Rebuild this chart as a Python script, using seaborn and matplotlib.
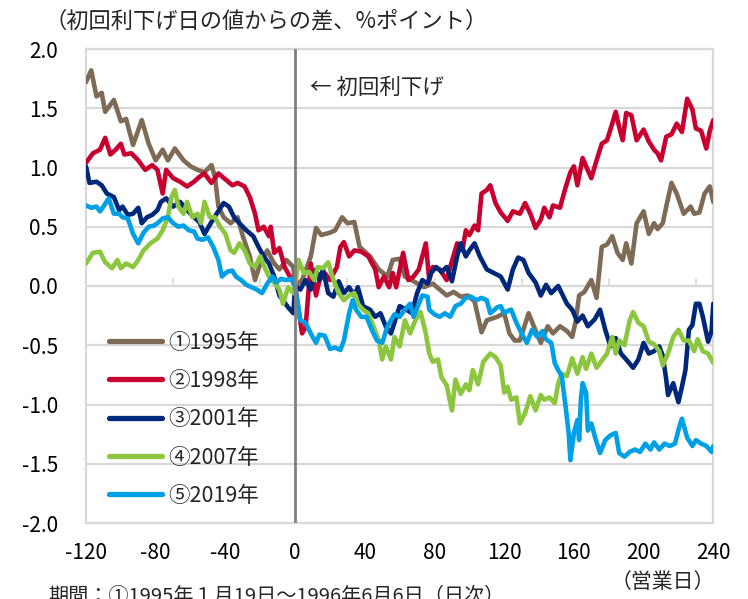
import numpy as np
import pandas as pd
import matplotlib
matplotlib.use("Agg")
import matplotlib.pyplot as plt
import seaborn as sns

# ---- data (business days from first rate cut, difference in %pt) ----
days_1995 = [-120, -117, -114, -111, -109, -104, -100, -97, -93, -88, -84, -80, -76, -73, -69, -64, -60, -56, -52, -48,
             -46, -44, -41, -37, -33, -30, -26, -23, -20, -16, -12, -9, -5, -1, 0, 4, 9, 12, 15, 20, 23, 27, 30, 34, 37,
             43, 48, 53, 56, 60, 63, 68, 74, 79, 83, 87, 91, 95, 99, 103, 107, 110, 116, 120, 123, 126, 129, 134, 137,
             141, 145, 148, 152, 156, 159, 161, 163, 166, 170, 173, 176, 179, 182, 185, 188, 190, 193, 196, 200, 203,
             206, 208, 211, 213, 216, 219, 223, 227, 229, 232, 235, 238, 240]
vals_1995 = [1.72, 1.82, 1.60, 1.63, 1.47, 1.57, 1.39, 1.41, 1.19, 1.40, 1.20, 1.06, 1.15, 1.06, 1.16, 1.06, 1.01, 0.98,
             0.96, 1.02, 0.92, 0.67, 0.58, 0.53, 0.58, 0.42, 0.25, 0.05, 0.19, 0.30, 0.19, 0.14, 0.22, 0.16, 0.00, 0.05,
             0.25, 0.49, 0.43, 0.45, 0.47, 0.58, 0.53, 0.54, 0.33, 0.25, 0.14, 0.08, 0.22, 0.23, 0.08, 0.04, -0.01, 0.02,
             -0.03, -0.08, -0.05, -0.09, -0.08, -0.13, -0.39, -0.29, -0.26, -0.23, -0.40, -0.46, -0.46, -0.23, -0.34,
             -0.48, -0.34, -0.40, -0.34, -0.38, -0.43, -0.30, -0.08, -0.05, 0.05, -0.10, 0.33, 0.35, 0.42, 0.28, 0.22,
             0.36, 0.19, 0.53, 0.63, 0.44, 0.53, 0.48, 0.53, 0.67, 0.87, 0.78, 0.61, 0.67, 0.61, 0.62, 0.78, 0.84, 0.71]

days_1998 = [-120, -116, -112, -109, -106, -103, -100, -98, -94, -90, -86, -82, -79, -76, -74, -70, -66, -62, -58, -55,
             -52, -48, -44, -40, -36, -33, -29, -26, -23, -21, -18, -15, -14, -12, -9, -6, -3, 0, 4, 6, 9, 12, 14, 17,
             20, 24, 26, 28, 31, 34, 38, 42, 46, 48, 51, 54, 56, 58, 62, 65, 68, 71, 75, 77, 79, 83, 87, 89, 93, 96,
             98, 100, 103, 105, 107, 110, 112, 115, 118, 122, 125, 129, 132, 135, 138, 141, 143, 146, 148, 152, 155,
             158, 160, 162, 165, 167, 170, 173, 176, 179, 182, 184, 186, 188, 190, 193, 196, 200, 203, 206, 208, 210,
             213, 216, 219, 222, 225, 228, 230, 233, 236, 238, 240]
vals_1998 = [1.04, 1.12, 1.15, 1.25, 1.11, 1.15, 1.20, 1.11, 1.12, 1.06, 0.98, 1.02, 0.98, 0.78, 0.98, 0.91, 0.88, 0.84,
             0.88, 0.92, 0.95, 0.87, 0.95, 0.90, 0.85, 0.87, 0.84, 0.75, 0.61, 0.47, 0.50, 0.42, 0.50, 0.28, 0.32, 0.16,
             0.08, 0.00, -0.40, -0.35, 0.19, -0.08, 0.05, 0.11, 0.05, 0.16, 0.33, 0.37, 0.25, 0.30, 0.29, 0.25, 0.14,
             -0.01, 0.08, -0.01, 0.11, -0.01, 0.28, 0.05, 0.08, 0.14, 0.36, 0.05, 0.16, 0.14, 0.05, 0.16, 0.36, 0.30,
             0.47, 0.43, 0.51, 0.47, 0.78, 0.81, 0.85, 0.70, 0.62, 0.55, 0.63, 0.61, 0.70, 0.61, 0.49, 0.56, 0.66, 0.58,
             0.68, 0.66, 0.82, 0.96, 1.01, 0.85, 1.08, 1.01, 0.91, 1.06, 1.20, 1.23, 1.37, 1.47, 1.34, 1.23, 1.46, 1.44,
             1.23, 1.32, 1.22, 1.15, 1.12, 1.06, 1.26, 1.28, 1.37, 1.30, 1.58, 1.49, 1.33, 1.31, 1.16, 1.31, 1.40]

days_2001 = [-120, -118, -114, -111, -108, -104, -101, -99, -96, -93, -90, -88, -85, -82, -79, -77, -74, -70, -66, -62,
             -58, -55, -52, -48, -45, -41, -38, -35, -32, -28, -24, -21, -18, -15, -12, -9, -7, -4, -1, 0, 3, 6, 9, 12,
             14, 16, 19, 22, 25, 28, 31, 34, 36, 39, 43, 46, 49, 52, 55, 57, 60, 64, 67, 70, 73, 76, 78, 81, 84, 87,
             90, 93, 95, 98, 100, 103, 106, 110, 114, 118, 122, 125, 128, 131, 134, 138, 141, 144, 147, 151, 154, 156,
             159, 162, 165, 168, 172, 175, 178, 181, 184, 187, 190, 194, 197, 200, 203, 206, 209, 211, 213, 214, 217,
             220, 222, 224, 226, 228, 230, 232, 234, 237, 239, 240]
vals_2001 = [1.01, 0.87, 0.88, 0.85, 0.78, 0.75, 0.64, 0.67, 0.60, 0.61, 0.66, 0.53, 0.58, 0.60, 0.64, 0.71, 0.74, 0.67,
             0.71, 0.64, 0.58, 0.54, 0.44, 0.54, 0.61, 0.70, 0.67, 0.58, 0.53, 0.47, 0.42, 0.33, 0.25, 0.19, 0.08, -0.08,
             -0.12, -0.18, -0.23, 0.00, -0.03, 0.05, -0.03, 0.14, 0.05, 0.14, -0.06, -0.09, 0.04, -0.06, -0.01, -0.08,
             -0.01, -0.17, -0.20, -0.26, -0.23, -0.34, -0.40, -0.31, -0.17, -0.20, -0.23, -0.06, 0.05, 0.02, 0.11, 0.16,
             0.12, 0.16, 0.04, 0.25, 0.36, 0.25, 0.30, 0.36, 0.25, 0.14, 0.11, 0.08, -0.03, 0.14, 0.24, 0.22, 0.11, 0.03,
             -0.08, 0.01, -0.06, 0.00, -0.09, -0.15, -0.20, -0.30, -0.25, -0.34, -0.28, -0.20, -0.37, -0.51, -0.44,
             -0.57, -0.62, -0.69, -0.62, -0.48, -0.57, -0.55, -0.51, -0.59, -0.79, -0.92, -0.82, -0.98, -0.85, -0.71,
             -0.37, -0.33, -0.15, -0.15, -0.26, -0.47, -0.38, -0.15]

days_2007 = [-120, -116, -112, -109, -105, -102, -100, -97, -93, -90, -87, -83, -79, -76, -73, -71, -69, -67, -64, -62,
             -59, -56, -54, -52, -49, -46, -43, -40, -37, -35, -32, -29, -26, -23, -20, -17, -14, -12, -9, -7, -4, -1,
             0, 2, 5, 8, 11, 13, 16, 19, 22, 25, 28, 31, 34, 36, 39, 42, 45, 48, 50, 52, 55, 57, 60, 63, 66, 69, 72,
             75, 77, 79, 82, 84, 87, 90, 92, 95, 98, 100, 102, 105, 108, 112, 115, 118, 120, 122, 124, 127, 129, 132,
             135, 138, 141, 143, 146, 149, 151, 153, 156, 159, 162, 165, 167, 170, 173, 176, 179, 182, 184, 186, 189,
             192, 194, 197, 200, 203, 206, 209, 211, 214, 217, 220, 223, 226, 229, 231, 234, 237, 240]
vals_2007 = [0.19, 0.28, 0.29, 0.20, 0.15, 0.22, 0.15, 0.19, 0.16, 0.22, 0.30, 0.36, 0.40, 0.47, 0.58, 0.75, 0.81, 0.67,
             0.61, 0.71, 0.58, 0.61, 0.53, 0.71, 0.58, 0.58, 0.50, 0.44, 0.30, 0.28, 0.36, 0.30, 0.19, 0.16, 0.25, 0.14,
             0.05, 0.03, -0.03, -0.15, -0.01, -0.06, 0.00, 0.22, 0.11, 0.12, 0.05, 0.16, 0.15, 0.20, 0.05, -0.06, -0.12,
             -0.08, -0.06, -0.15, -0.20, -0.23, -0.34, -0.46, -0.62, -0.51, -0.62, -0.43, -0.51, -0.29, -0.40, -0.29,
             -0.22, -0.40, -0.57, -0.64, -0.62, -0.77, -0.84, -1.05, -0.79, -0.91, -0.83, -0.88, -0.71, -0.83, -0.64,
             -0.57, -0.60, -0.67, -0.90, -0.85, -0.96, -0.94, -1.16, -1.07, -0.93, -1.05, -0.92, -0.96, -0.94, -0.99,
             -0.82, -0.74, -0.76, -0.61, -0.74, -0.60, -0.70, -0.57, -0.69, -0.63, -0.57, -0.43, -0.57, -0.46, -0.50,
             -0.29, -0.22, -0.31, -0.34, -0.47, -0.49, -0.55, -0.67, -0.57, -0.43, -0.37, -0.46, -0.46, -0.55, -0.45,
             -0.55, -0.57, -0.65]

days_2019 = [-120, -117, -114, -112, -110, -107, -104, -101, -99, -96, -93, -90, -87, -84, -81, -79, -76, -73, -70, -67,
             -64, -61, -58, -56, -53, -50, -47, -44, -42, -39, -36, -34, -31, -28, -25, -22, -19, -16, -13, -11, -8, -5,
             -2, 0, 3, 6, 9, 12, 14, 17, 20, 23, 26, 28, 31, 33, 35, 38, 41, 44, 47, 50, 53, 55, 57, 60, 63, 66, 68,
             71, 73, 76, 77, 80, 83, 86, 89, 92, 95, 98, 101, 104, 107, 110, 112, 116, 118, 120, 122, 124, 127, 130,
             133, 136, 139, 142, 144, 147, 149, 151, 153, 155, 157, 158, 160, 162, 163, 164, 165, 167, 168, 170, 172,
             175, 178, 181, 184, 186, 189, 192, 195, 198, 201, 204, 206, 209, 212, 215, 218, 221, 222, 225, 228, 230,
             233, 236, 239, 240]
vals_2019 = [0.68, 0.66, 0.67, 0.63, 0.67, 0.74, 0.61, 0.61, 0.58, 0.57, 0.44, 0.36, 0.45, 0.50, 0.51, 0.53, 0.57, 0.58,
             0.53, 0.50, 0.51, 0.47, 0.46, 0.40, 0.39, 0.41, 0.33, 0.22, 0.08, 0.12, 0.13, 0.08, 0.05, 0.01, -0.01, -0.03,
             -0.06, 0.02, 0.08, 0.03, 0.06, 0.05, 0.06, 0.00, -0.29, -0.31, -0.40, -0.48, -0.41, -0.42, -0.53, -0.52,
             -0.54, -0.46, -0.23, -0.12, -0.20, -0.26, -0.26, -0.37, -0.46, -0.48, -0.34, -0.29, -0.24, -0.26, -0.20,
             -0.15, -0.26, -0.15, -0.08, -0.09, -0.20, -0.24, -0.26, -0.23, -0.26, -0.17, -0.15, -0.10, -0.09, -0.12,
             -0.10, -0.12, -0.23, -0.18, -0.17, -0.23, -0.21, -0.20, -0.31, -0.40, -0.48, -0.37, -0.43, -0.38, -0.45,
             -0.48, -0.65, -0.71, -0.76, -0.99, -1.24, -1.47, -1.24, -1.13, -1.30, -0.96, -0.82, -0.90, -1.22, -1.16,
             -1.27, -1.41, -1.30, -1.26, -1.24, -1.41, -1.44, -1.40, -1.38, -1.40, -1.33, -1.38, -1.32, -1.38, -1.33,
             -1.35, -1.33, -1.16, -1.12, -1.28, -1.35, -1.30, -1.33, -1.35, -1.40, -1.35]

series_names = ["①1995年", "②1998年", "③2001年", "④2007年", "⑤2019年"]
series_colors = ["#7E6A55", "#C8002F", "#00287A", "#8CC63F", "#00A0E6"]
x_ticks = [-120, -80, -40, 0, 40, 80, 120, 160, 200, 240]
y_ticks = [-2.0, -1.5, -1.0, -0.5, 0.0, 0.5, 1.0, 1.5, 2.0]
minor_ticks = [-70, -20, 30, 80, 130, 180, 230]

y_title = "（初回利下げ日の値からの差、%ポイント）"
x_unit = "（営業日）"
note = "期間：①1995年１月19日～1996年6月6日（日次）"
annot = "← 初回利下げ"

# ---- build table ----
all_days = [days_1995, days_1998, days_2001, days_2007, days_2019]
all_vals = [vals_1995, vals_1998, vals_2001, vals_2007, vals_2019]
df = pd.concat([pd.DataFrame({"day": d, "value": v, "series": n})
                for n, d, v in zip(series_names, all_days, all_vals)], ignore_index=True)

sns.set_style("white")
plt.rcParams["font.family"] = ["Noto Sans CJK JP", "DejaVu Sans"]

W, H = 748, 599
fig = plt.figure(figsize=(W / 100, H / 100), dpi=100)
L, R, T, B = 86, 713.3, 49, 523
ax = fig.add_axes([L / W, 1 - B / H, (R - L) / W, (B - T) / H])

grid_c = "#d9d9d9"
ax.set_axisbelow(True)
ax.yaxis.grid(True, color=grid_c, lw=1.6)
ax.xaxis.grid(False)

sns.lineplot(data=df, x="day", y="value", hue="series", hue_order=series_names,
             palette=dict(zip(series_names, series_colors)), estimator=None,
             linewidth=3.3, ax=ax, zorder=3)

ax.axvline(0, color="#808080", lw=2.0, zorder=4)

ax.set_xlim(-120, 240)
ax.set_ylim(-2, 2)
ax.set_xticks(x_ticks)
ax.set_xticklabels([str(t) for t in x_ticks])
ax.set_yticks(y_ticks)
ax.set_yticklabels([f"{t:.1f}" for t in y_ticks])
ax.tick_params(axis="both", length=0, labelsize=15, colors="#000000")
ax.tick_params(axis="y", pad=20)
ax.tick_params(axis="x", pad=14)
ax.set_xlabel("")
ax.set_ylabel("")
for s in ax.spines.values():
    s.set_color(grid_c)
    s.set_linewidth(1.6)

# small category ticks on the zero line
sec = ax.secondary_xaxis(0.5)
sec.set_xticks(minor_ticks)
sec.tick_params(length=6, width=1.2, color=grid_c, labeltop=False, labelbottom=False, direction="out")
for s in sec.spines.values():
    s.set_visible(False)

handles, labels = ax.get_legend_handles_labels()
ax.get_legend().remove()
leg = ax.legend(handles, labels, loc="upper left", bbox_to_anchor=(0.036, 0.404), frameon=False,
                fontsize=15.5, handlelength=2.5, handletextpad=0.25, labelspacing=0.76,
                borderpad=0, borderaxespad=0)
for h in leg.legend_handles:
    h.set_linewidth(3.8)
    h.set_solid_capstyle("round")

ax.text(8.5, 1.67, annot, fontsize=15.5, ha="left", va="center", zorder=5)

fig.text(0.060, 1 - 21 / H, y_title, fontsize=16, ha="left", va="center")
fig.text(715 / W, 1 - 582 / H, x_unit, fontsize=15, ha="right", va="center")
fig.text(48 / W, 1 - 596 / H, note, fontsize=14.5, ha="left", va="center")

fig.savefig("out.png", dpi=100)
